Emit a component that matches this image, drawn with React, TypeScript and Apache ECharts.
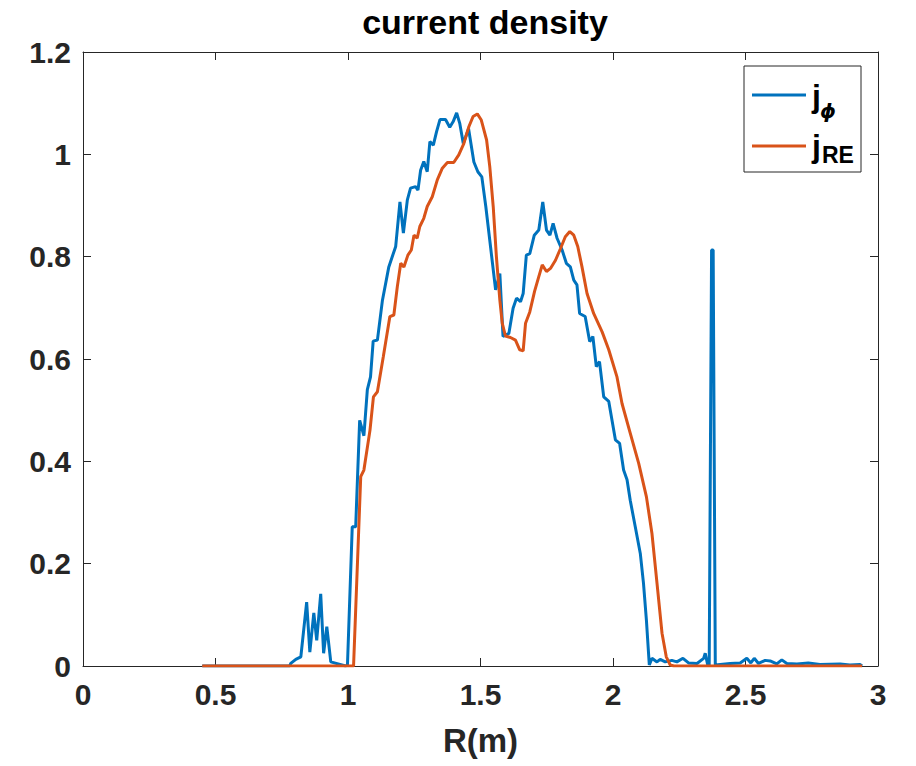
import React, { useEffect, useRef } from "react";
import * as echarts from "echarts";

const rPhi = [0.45, 0.78, 0.784, 0.803, 0.822, 0.844, 0.856, 0.871, 0.882, 0.897, 0.908, 0.92, 0.935, 0.991, 0.998, 1.016, 1.029, 1.044, 1.06, 1.073, 1.085, 1.095, 1.111, 1.13, 1.154, 1.18, 1.196, 1.209, 1.224, 1.236, 1.255, 1.264, 1.274, 1.286, 1.299, 1.309, 1.322, 1.334, 1.347, 1.368, 1.384, 1.397, 1.41, 1.422, 1.435, 1.455, 1.475, 1.49, 1.505, 1.52, 1.54, 1.557, 1.573, 1.585, 1.607, 1.623, 1.636, 1.651, 1.661, 1.673, 1.686, 1.703, 1.72, 1.735, 1.749, 1.762, 1.774, 1.789, 1.808, 1.824, 1.839, 1.852, 1.864, 1.874, 1.895, 1.912, 1.924, 1.937, 1.949, 1.965, 1.984, 2.009, 2.025, 2.04, 2.053, 2.065, 2.084, 2.103, 2.115, 2.126, 2.137, 2.147, 2.166, 2.178, 2.197, 2.222, 2.241, 2.264, 2.285, 2.317, 2.342, 2.348, 2.357, 2.363, 2.372, 2.378, 2.386, 2.442, 2.48, 2.505, 2.52, 2.533, 2.549, 2.574, 2.593, 2.618, 2.637, 2.656, 2.694, 2.737, 2.781, 2.857, 2.894, 2.932, 2.94];
const jPhi = [0, 0, 0.005, 0.013, 0.018, 0.125, 0.027, 0.104, 0.05, 0.141, 0.025, 0.077, 0.008, 0, 0.002, 0.272, 0.272, 0.48, 0.45, 0.54, 0.565, 0.635, 0.637, 0.715, 0.78, 0.82, 0.907, 0.846, 0.911, 0.934, 0.937, 0.93, 0.969, 0.986, 0.966, 1.025, 1.018, 1.044, 1.068, 1.068, 1.053, 1.064, 1.081, 1.06, 1.021, 1.05, 0.985, 0.966, 0.956, 0.898, 0.81, 0.735, 0.767, 0.644, 0.65, 0.699, 0.719, 0.712, 0.728, 0.803, 0.806, 0.842, 0.852, 0.907, 0.852, 0.842, 0.865, 0.836, 0.813, 0.787, 0.78, 0.754, 0.745, 0.689, 0.683, 0.634, 0.644, 0.585, 0.595, 0.526, 0.517, 0.442, 0.435, 0.383, 0.364, 0.324, 0.272, 0.22, 0.162, 0.09, 0.002, 0.015, 0.008, 0.013, 0.008, 0.011, 0.008, 0.015, 0.006, 0.005, 0.015, 0.025, 0.003, 0, 0.813, 0.813, 0.002, 0.005, 0.006, 0.015, 0.006, 0.015, 0.005, 0.011, 0.01, 0.004, 0.012, 0.005, 0.004, 0.006, 0.003, 0.004, 0.002, 0.003, 0];

const rRE = [0.45, 1.021, 1.048, 1.06, 1.083, 1.096, 1.111, 1.133, 1.158, 1.173, 1.186, 1.199, 1.211, 1.226, 1.239, 1.249, 1.261, 1.271, 1.286, 1.299, 1.318, 1.337, 1.356, 1.375, 1.399, 1.418, 1.437, 1.456, 1.472, 1.488, 1.503, 1.523, 1.535, 1.548, 1.56, 1.573, 1.582, 1.594, 1.613, 1.632, 1.648, 1.661, 1.67, 1.686, 1.704, 1.72, 1.733, 1.749, 1.764, 1.783, 1.802, 1.82, 1.837, 1.852, 1.867, 1.883, 1.902, 1.927, 1.959, 1.984, 2.015, 2.034, 2.065, 2.097, 2.126, 2.147, 2.166, 2.185, 2.201, 2.216, 2.23, 2.94];
const jRE = [0, 0, 0.37, 0.383, 0.461, 0.526, 0.536, 0.604, 0.683, 0.686, 0.741, 0.787, 0.78, 0.803, 0.813, 0.842, 0.836, 0.859, 0.875, 0.898, 0.917, 0.95, 0.973, 0.984, 0.984, 0.999, 1.021, 1.054, 1.074, 1.079, 1.067, 1.028, 0.976, 0.898, 0.8, 0.715, 0.67, 0.645, 0.642, 0.637, 0.618, 0.616, 0.67, 0.692, 0.732, 0.761, 0.784, 0.771, 0.777, 0.793, 0.816, 0.839, 0.849, 0.842, 0.82, 0.78, 0.728, 0.689, 0.653, 0.618, 0.565, 0.513, 0.455, 0.396, 0.331, 0.259, 0.162, 0.064, 0.018, 0.002, 0, 0];

const seriesNames = ["jϕ", "jRE"];
const seriesColors = ["#0072BD", "#D95319"];
const titleText = "current density";
const xName = "R(m)";

const FONT = "'Liberation Sans', Arial, Helvetica, sans-serif";
const AX = "#262626";

export default function App() {
  const ref = useRef<HTMLDivElement>(null);
  useEffect(() => {
    if (!ref.current) return;
    const chart = echarts.init(ref.current, undefined, { renderer: "svg" });
    const zip = (xs: number[], ys: number[]) => xs.map((x, i) => [x, ys[i]]);
    const axisCommon = {
      min: 0,
      axisLine: { show: true, onZero: false, lineStyle: { color: AX, width: 1 } },
      axisTick: { show: true, inside: true, length: 8, lineStyle: { color: AX, width: 1 } },
      splitLine: { show: false },
    };
    const labelStyle = { color: AX, fontFamily: FONT, fontWeight: "bold" as const, fontSize: 30 };
    chart.setOption({
      animation: false,
      backgroundColor: "#ffffff",
      title: {
        text: titleText,
        left: 480,
        top: 0,
        textAlign: "center",
        textStyle: { fontFamily: FONT, fontWeight: "bold", fontSize: 34, color: "#000" },
      },
      grid: { left: 83, right: 38, top: 52, bottom: 100, containLabel: false },
      xAxis: [
        {
          ...axisCommon,
          type: "value",
          position: "bottom",
          max: 3,
          interval: 0.5,
          name: xName,
          nameLocation: "middle",
          nameGap: 58,
          nameTextStyle: { ...labelStyle, fontSize: 33 },
          axisLabel: { ...labelStyle, margin: 13 },
        },
        {
          ...axisCommon,
          type: "value",
          position: "top",
          max: 3,
          interval: 0.5,
          axisLabel: { show: false },
        },
      ],
      yAxis: [
        {
          ...axisCommon,
          type: "value",
          position: "left",
          max: 1.2,
          interval: 0.2,
          axisLabel: { ...labelStyle, margin: 12 },
        },
        {
          ...axisCommon,
          type: "value",
          position: "right",
          max: 1.2,
          interval: 0.2,
          axisLabel: { show: false },
        },
      ],
      series: [
        {
          name: seriesNames[0],
          type: "line",
          data: zip(rPhi, jPhi),
          showSymbol: false,
          symbol: "none",
          lineStyle: { color: seriesColors[0], width: 3 },
          itemStyle: { color: seriesColors[0] },
          z: 2,
        },
        {
          name: seriesNames[1],
          type: "line",
          data: zip(rRE, jRE),
          showSymbol: false,
          symbol: "none",
          lineStyle: { color: seriesColors[1], width: 3 },
          itemStyle: { color: seriesColors[1] },
          z: 3,
        },
      ],
      graphic: [
        {
          type: "rect",
          shape: { x: 744, y: 66, width: 117, height: 106 },
          style: { fill: "#ffffff", stroke: AX, lineWidth: 1 },
          z: 100,
        },
        {
          type: "line",
          shape: { x1: 752, y1: 95, x2: 806, y2: 95 },
          style: { stroke: seriesColors[0], lineWidth: 3 },
          z: 101,
        },
        {
          type: "line",
          shape: { x1: 752, y1: 146, x2: 806, y2: 146 },
          style: { stroke: seriesColors[1], lineWidth: 3 },
          z: 101,
        },
        {
          type: "text",
          x: 812,
          y: 96,
          style: { text: "j", fontFamily: FONT, fontWeight: "bold", fontSize: 32, fill: "#000", verticalAlign: "middle", align: "left" },
          z: 101,
        },
        {
          type: "text",
          x: 820,
          y: 111,
          style: { text: "ϕ", fontFamily: "'DejaVu Sans', sans-serif", fontStyle: "italic", fontWeight: "bold", fontSize: 20, fill: "#000", verticalAlign: "middle", align: "left" },
          z: 101,
        },
        {
          type: "text",
          x: 812,
          y: 146,
          style: { text: "j", fontFamily: FONT, fontWeight: "bold", fontSize: 32, fill: "#000", verticalAlign: "middle", align: "left" },
          z: 101,
        },
        {
          type: "text",
          x: 822,
          y: 155,
          style: { text: "RE", fontFamily: FONT, fontWeight: "bold", fontSize: 23, fill: "#000", verticalAlign: "middle", align: "left" },
          z: 101,
        },
      ],
    });
    return () => chart.dispose();
  }, []);
  return (
    <div
      ref={ref}
      style={{ position: "absolute", left: 0, top: 0, width: 916, height: 766, background: "#fff" }}
    />
  );
}
